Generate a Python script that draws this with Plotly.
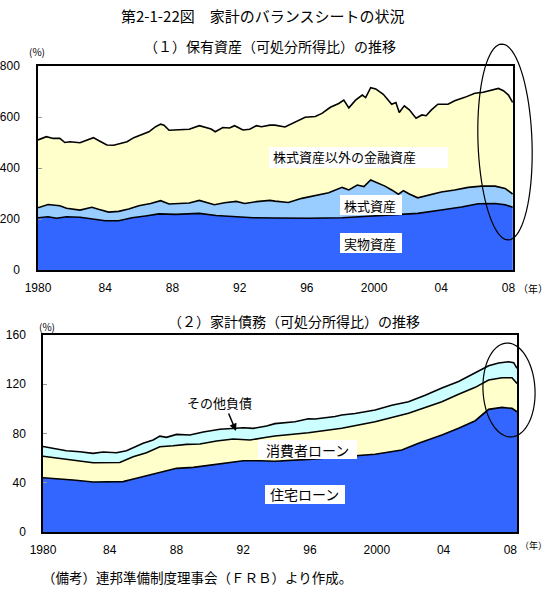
import math
import plotly.graph_objects as go

W, H = 550, 592

# ---------------- data: (1) 保有資産（可処分所得比） ----------------
# cumulative levels (%)
total_years = [1980.0, 1980.5, 1980.9, 1981.3, 1981.6, 1981.9, 1982.5, 1982.9, 1983.3, 1983.6,
               1984.1, 1984.5, 1984.9, 1985.3, 1985.7, 1986.2, 1986.6, 1987.0, 1987.3, 1987.5,
               1987.8, 1988.4, 1989.0, 1989.6, 1990.0, 1990.3, 1990.55, 1991.0, 1991.4, 1991.7,
               1992.2, 1992.6, 1993.0, 1993.3, 1993.8, 1994.1, 1994.7, 1995.3, 1995.9, 1996.5,
               1996.9, 1997.4, 1997.9, 1998.2, 1998.5, 1998.9, 1999.3, 1999.5, 1999.8, 2000.1,
               2000.55, 2001.05, 2001.3, 2001.5, 2001.8, 2002.1, 2002.5, 2002.85, 2003.1, 2003.4,
               2003.8, 2004.4, 2004.8, 2005.4, 2006.0, 2006.5, 2006.9, 2007.4, 2007.7, 2008.0, 2008.25]
total_assets = [510, 523, 516, 516, 500, 503, 499, 510, 519, 508,
                490, 489, 497, 503, 519, 533, 542, 562, 572, 568,
                548, 550, 552, 566, 558, 553, 542, 559, 557, 566,
                549, 552, 566, 562, 568, 568, 561, 581, 599, 602,
                614, 638, 653, 666, 636, 666, 686, 676, 715, 710,
                689, 650, 657, 618, 644, 628, 595, 608, 605, 627,
                650, 650, 664, 677, 693, 697, 703, 712, 703, 686, 657]

stock_years = [1980.0, 1980.6, 1981.3, 1981.7, 1982.5, 1983.2, 1983.6, 1984.2, 1984.8, 1985.4,
               1986.0, 1986.7, 1987.3, 1987.8, 1989.0, 1989.6, 1990.5, 1991.1, 1991.8, 1992.3,
               1993.0, 1993.8, 1994.1, 1994.9, 1995.7, 1996.5, 1997.3, 1998.1, 1998.5, 1999.0,
               1999.4, 1999.8, 2000.3, 2000.65, 2001.05, 2001.45, 2001.75, 2002.1, 2002.6, 2003.2,
               2004.0, 2004.8, 2005.6, 2006.4, 2007.2, 2007.8, 2008.25]
real_plus_stock = [244, 257, 252, 242, 235, 246, 238, 227, 230, 239,
                   252, 261, 272, 259, 263, 273, 256, 264, 269, 261,
                   268, 273, 270, 265, 281, 293, 303, 324, 314, 333,
                   327, 353, 340, 329, 314, 297, 311, 298, 283, 294,
                   306, 314, 324, 329, 329, 320, 298]

real_years = [1980.0, 1980.6, 1981.1, 1981.7, 1982.5, 1983.5, 1984.0, 1984.8, 1985.6, 1986.4,
              1987.2, 1988.2, 1989.6, 1990.6, 1991.8, 1992.8, 1994.1, 1996.1, 1998.1, 2000.0,
              2001.6, 2002.6, 2004.0, 2005.2, 2006.2, 2007.2, 2007.8, 2008.25]
real_assets = [205, 209, 203, 209, 207, 199, 193, 193, 205, 212,
               220, 218, 222, 214, 209, 205, 204, 203, 205, 212,
               218, 222, 235, 247, 260, 261, 256, 246]

# ---------------- data: (2) 家計債務（可処分所得比） ----------------
debt_total_years = [1980.0, 1980.6, 1981.4, 1982.2, 1983.0, 1983.6, 1984.4, 1985.0, 1985.6, 1986.0,
                    1986.6, 1987.0, 1987.4, 1988.0, 1988.8, 1989.6, 1990.6, 1991.4, 1992.0, 1992.6,
                    1993.4, 1993.9, 1995.1, 1995.9, 1996.3, 1997.5, 1997.9, 1998.7, 1999.9, 2000.9,
                    2001.9, 2002.9, 2003.9, 2004.9, 2005.9, 2006.7, 2007.3, 2007.9, 2008.2, 2008.4]
debt_total = [69.5, 68.0, 66.0, 65.2, 63.9, 65.0, 64.4, 66.0, 69.8, 72.0,
              74.7, 77.9, 76.9, 79.3, 78.8, 81.2, 83.4, 84.2, 84.7, 84.2,
              86.1, 88.0, 89.6, 92.0, 91.8, 93.8, 95.0, 96.3, 99.1, 102.9,
              105.8, 111.0, 117.0, 122.3, 129.1, 135.0, 137.3, 138.3, 137.5, 133.0]

consumer_years = [1980.0, 1981.4, 1983.0, 1984.6, 1985.4, 1986.2, 1987.0, 1987.8, 1988.6, 1989.4,
                  1990.4, 1991.4, 1992.4, 1993.4, 1993.9, 1995.9, 1997.9, 1999.9, 2001.9, 2002.9,
                  2003.9, 2004.9, 2005.9, 2006.7, 2007.5, 2008.1, 2008.4]
mortgage_plus_consumer = [61.5, 59.0, 56.3, 56.5, 61.2, 64.4, 69.3, 70.1, 71.2, 71.5,
                          73.9, 75.5, 74.7, 76.9, 78.0, 80.6, 84.2, 89.6, 96.4, 101.2,
                          105.8, 111.8, 117.5, 123.4, 125.3, 125.3, 120.7]

mortgage_years = [1980.0, 1980.8, 1981.8, 1983.0, 1984.0, 1984.8, 1985.6, 1986.4, 1987.2, 1988.0,
                  1989.0, 1990.0, 1991.0, 1992.0, 1993.0, 1993.9, 1995.9, 1997.9, 1999.9, 2001.5,
                  2002.5, 2003.9, 2004.9, 2005.9, 2006.7, 2007.5, 2008.1, 2008.4]
mortgage = [44.1, 43.0, 42.2, 40.6, 40.9, 40.9, 43.6, 46.3, 49.0, 51.7,
            52.5, 54.4, 56.6, 57.9, 57.9, 57.5, 59.0, 61.2, 63.1, 66.6,
            72.0, 78.8, 84.2, 90.4, 99.6, 101.2, 100.4, 97.7]

tick_years = [1980, 1984, 1988, 1992, 1996, 2000, 2004, 2008]
tick_text = ["1980", "84", "88", "92", "96", "2000", "04", "08"]
y1_ticks = [0, 200, 400, 600, 800]
y2_ticks = [0, 40, 80, 120, 160]

# ---------------- helpers ----------------
def xp(px):
    return px / W

def yp(py):
    return 1 - py / H

C_BLUE = "#3366FF"
C_LBLUE = "#99CCFF"
C_YEL = "#FFFFCC"
C_CYAN = "#CCFFFF"
JP = "Noto Sans CJK JP"
NUM = "Liberation Sans"

fig = go.Figure()

def area(x, y, color, xa, ya):
    fig.add_trace(go.Scatter(x=x, y=y, mode="lines", fill="tozeroy", fillcolor=color,
                             line=dict(color="black", width=1.6), xaxis=xa, yaxis=ya,
                             hoverinfo="skip", showlegend=False))

area(total_years, total_assets, C_YEL, "x", "y")
area(stock_years, real_plus_stock, C_LBLUE, "x", "y")
area(real_years, real_assets, C_BLUE, "x", "y")

area(debt_total_years, debt_total, C_CYAN, "x2", "y2")
area(consumer_years, mortgage_plus_consumer, C_YEL, "x2", "y2")
area(mortgage_years, mortgage, C_BLUE, "x2", "y2")

axis_common = dict(showgrid=False, zeroline=False, showline=True, linecolor="black",
                   linewidth=1.5, mirror=True, automargin=False,
                   tickfont=dict(family=NUM, size=12, color="black"))

fig.update_layout(
    template="none",
    width=W, height=H,
    margin=dict(l=0, r=0, t=0, b=0, autoexpand=False),
    paper_bgcolor="white", plot_bgcolor="white",
    xaxis=dict(domain=[xp(38), xp(513)], range=[1980, 2008.27], anchor="y",
               tickvals=tick_years, ticktext=tick_text, ticks="", ticklabelstandoff=6,
               **axis_common),
    yaxis=dict(domain=[yp(270), yp(66)], range=[0, 800], anchor="x",
               tickvals=y1_ticks, ticks="inside", ticklen=4, tickcolor="#999999",
               ticklabelstandoff=14, **axis_common),
    xaxis2=dict(domain=[xp(43), xp(517)], range=[1980, 2008.4], anchor="y2",
                tickvals=tick_years, ticktext=tick_text, ticks="", ticklabelstandoff=6,
                **axis_common),
    yaxis2=dict(domain=[yp(532), yp(335)], range=[0, 160], anchor="x2",
                tickvals=y2_ticks, ticks="inside", ticklen=4, tickcolor="#999999",
                ticklabelstandoff=13, **axis_common),
)

# ---------------- white label boxes ----------------
boxes = [(269, 147, 448, 168), (340, 195, 402, 215), (340, 233, 402, 253),
         (258, 440, 357, 459), (265, 485, 345, 504)]
shapes = []
for x0, y0, x1, y1 in boxes:
    shapes.append(dict(type="rect", xref="paper", yref="paper",
                       x0=xp(x0), x1=xp(x1), y0=yp(y1), y1=yp(y0),
                       fillcolor="white", line=dict(width=0), layer="above"))

# ---------------- ellipses ----------------
def ellipse_path(cx, cy, a, b, ang_deg, n=80):
    t = math.radians(ang_deg)
    pts = []
    for i in range(n + 1):
        th = 2 * math.pi * i / n
        ex, ey = a * math.cos(th), b * math.sin(th)
        px = cx + ex * math.cos(t) - ey * math.sin(t)
        py = cy + ex * math.sin(t) + ey * math.cos(t)
        pts.append((xp(px), yp(py)))
    d = "M " + " L ".join(f"{x:.5f},{y:.5f}" for x, y in pts) + " Z"
    return d

shapes.append(dict(type="path", xref="paper", yref="paper",
                   path=ellipse_path(505, 142, 27, 98, -2), line=dict(color="black", width=1.2),
                   layer="above"))
shapes.append(dict(type="path", xref="paper", yref="paper",
                   path=ellipse_path(509, 390, 26, 47, -3), line=dict(color="black", width=1.2),
                   layer="above"))
fig.update_layout(shapes=shapes)

# ---------------- texts ----------------
ann = []
def text(s, px, py, size, family=JP, xanchor="center"):
    ann.append(dict(text=s, x=xp(px), y=yp(py), xref="paper", yref="paper",
                    xanchor=xanchor, yanchor="middle", showarrow=False,
                    font=dict(family=family, size=size, color="black")))

text("第2-1-22図　家計のバランスシートの状況", 262, 16, 15)
text("（１）保有資産（可処分所得比）の推移", 270, 46, 14)
text("(%)", 37, 51, 10)
text("（年）", 533, 288, 10)
text("株式資産以外の金融資産", 344, 157, 13)
text("株式資産", 370, 205, 13)
text("実物資産", 370, 243, 13)

text("（２）家計債務（可処分所得比）の推移", 294, 321, 14)
text("(%)", 47, 326, 10)
text("（年）", 533, 545, 9)
text("その他負債", 219, 402, 13)
text("消費者ローン", 307, 450, 14)
text("住宅ローン", 304, 494, 14)

text("（備考）連邦準備制度理事会（ＦＲＢ）より作成。", 40, 577, 13.5, xanchor="left")

# arrow for その他負債
ann.append(dict(text="", x=xp(236), y=yp(431), xref="paper", yref="paper",
                ax=-8, ay=-19, axref="pixel", ayref="pixel", showarrow=True,
                arrowhead=2, arrowsize=1, arrowwidth=1.5, arrowcolor="black"))

fig.update_layout(annotations=ann)

fig.write_html("out.html")
